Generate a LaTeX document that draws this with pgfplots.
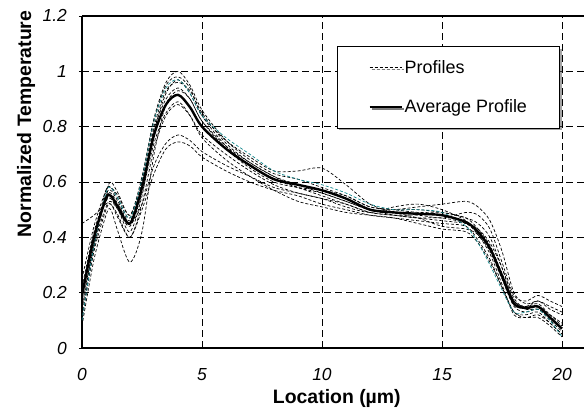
\documentclass[border=0pt]{standalone}
\usepackage{fontspec}
\setmainfont{Liberation Sans}
\usepackage{pgfplots}
\pgfplotsset{compat=1.18}
\usepackage{pgfplotstable}
\usetikzlibrary{calc,shadows}

\definecolor{tealline}{RGB}{20,135,140}

% x, average, ten measured profiles (a-j), one teal profile (t)
\pgfplotstableread{
x    avg   a    b    c     d    e    f    g    h    i    j    t
0    0.19  0.15 0.22 0.12  0.08 0.45 0.18 0.20 0.10 0.25 0.14 0.10
0.5  0.40  0.38 0.42 0.35  0.32 0.48 0.40 0.41 0.36 0.44 0.37 0.37
1    0.54  0.56 0.55 0.50  0.48 0.52 0.57 0.53 0.55 0.57 0.51 0.56
1.2  0.55  0.60 0.56 0.52  0.50 0.53 0.58 0.54 0.57 0.58 0.52 0.58
1.5  0.51  0.56 0.52 0.47  0.42 0.50 0.55 0.50 0.53 0.54 0.48 0.54
2    0.45  0.48 0.45 0.40  0.31 0.42 0.48 0.44 0.46 0.47 0.40 0.47
2.5  0.58  0.62 0.52 0.50  0.42 0.55 0.60 0.56 0.60 0.61 0.52 0.61
3    0.77  0.83 0.66 0.63  0.70 0.78 0.80 0.74 0.79 0.82 0.72 0.82
3.5  0.88  0.96 0.74 0.72  0.88 0.92 0.93 0.85 0.90 0.95 0.84 0.94
4    0.915 1.00 0.77 0.745 0.93 0.97 0.96 0.89 0.94 0.98 0.88 0.97
4.5  0.87  0.95 0.75 0.73  0.90 0.92 0.93 0.84 0.90 0.94 0.84 0.92
5    0.80  0.86 0.71 0.69  0.82 0.84 0.85 0.76 0.82 0.84 0.77 0.84
6    0.72  0.75 0.66 0.64  0.73 0.75 0.74 0.68 0.72 0.73 0.70 0.76
7    0.66  0.68 0.62 0.60  0.67 0.69 0.67 0.62 0.65 0.66 0.64 0.70
8    0.61  0.63 0.58 0.57  0.62 0.64 0.62 0.57 0.60 0.61 0.59 0.64
9    0.59  0.61 0.56 0.55  0.58 0.64 0.59 0.53 0.58 0.58 0.56 0.61
10   0.57  0.58 0.54 0.52  0.56 0.65 0.56 0.51 0.57 0.55 0.54 0.59
11   0.54  0.55 0.52 0.50  0.53 0.59 0.53 0.49 0.55 0.52 0.51 0.56
12   0.50  0.51 0.49 0.48  0.50 0.52 0.50 0.48 0.51 0.49 0.49 0.52
13   0.49  0.50 0.48 0.47  0.48 0.49 0.50 0.47 0.50 0.48 0.51 0.50
14   0.485 0.50 0.47 0.46  0.47 0.47 0.51 0.45 0.49 0.48 0.52 0.50
15   0.48  0.49 0.47 0.45  0.46 0.44 0.52 0.43 0.49 0.47 0.50 0.49
16   0.455 0.47 0.45 0.44  0.45 0.43 0.53 0.42 0.47 0.49 0.46 0.44
16.5 0.42  0.43 0.41 0.39  0.43 0.41 0.51 0.38 0.45 0.48 0.41 0.38
17   0.36  0.37 0.35 0.32  0.38 0.36 0.46 0.31 0.40 0.43 0.34 0.30
17.5 0.26  0.27 0.25 0.22  0.29 0.27 0.35 0.22 0.29 0.31 0.23 0.21
18   0.16  0.17 0.15 0.13  0.18 0.17 0.20 0.13 0.17 0.19 0.12 0.13
18.5 0.145 0.15 0.13 0.11  0.14 0.14 0.16 0.12 0.15 0.17 0.11 0.13
19   0.15  0.16 0.14 0.12  0.14 0.15 0.17 0.13 0.17 0.19 0.11 0.14
19.5 0.11  0.12 0.10 0.09  0.11 0.12 0.15 0.09 0.14 0.17 0.08 0.10
20   0.07  0.08 0.06 0.05  0.07 0.09 0.13 0.05 0.12 0.15 0.04 0.04
}\prof

\begin{document}
\begin{tikzpicture}[
  xt/.style={anchor=base, yshift=-32bp, inner sep=0pt,
    font=\fontsize{17.5}{20}\selectfont\itshape},
  yt/.style={anchor=base east, xshift=-15bp, yshift=-6bp, inner sep=0pt,
    font=\fontsize{17.5}{20}\selectfont\itshape}]
\begin{axis}[
  scale only axis, width=501.6bp, height=332bp,
  xmin=0, xmax=20.9, ymin=0, ymax=1.2,
  xtick={0,5,10,15,20}, ytick={0,0.2,0.4,0.6,0.8,1,1.2},
  xticklabels={,,,,,}, yticklabels={,,,,,,,},
  clip mode=individual,
  axis x line*=box, axis y line*=left,
  axis line style={line width=1.3bp, -},
  grid=major,
  major grid style={black, line width=0.7bp, dash pattern=on 7bp off 4bp},
  xtick style={draw=none},
  ytick style={black, line width=0.8bp},
  tick align=outside, major tick length=3bp,
  xlabel={Location (µm)},
  ylabel={Normalized Temperature},
  xlabel style={at={(axis description cs:0.508,-0.166)}, anchor=base,
    font=\fontsize{19.5}{22}\selectfont\bfseries},
  ylabel style={at={(axis description cs:-0.1116,0.675)}, anchor=center,
    font=\fontsize{19.5}{22}\selectfont\bfseries},
  legend image code/.code={\draw[#1] (0bp,0bp) -- (32bp,0bp);},
  legend cell align=left,
  legend style={at={(axis description cs:0.508,0.9096)}, anchor=north west,
    draw=black, line width=1bp, fill=white,
    drop shadow={shadow xshift=2bp, shadow yshift=-2bp, fill=black!70},
    font=\fontsize{18}{21}\selectfont,
    inner xsep=31bp, inner ysep=12bp, row sep=21bp},
  prof/.style={black, line width=0.7bp, dash pattern=on 3bp off 2bp, smooth},
]
\addplot[prof] table[x=x, y=a] {\prof};
\addlegendentry{Profiles}
\addplot[prof, forget plot] table[x=x, y=b] {\prof};
\addplot[prof, forget plot] table[x=x, y=c] {\prof};
\addplot[prof, forget plot] table[x=x, y=d] {\prof};
\addplot[prof, forget plot] table[x=x, y=e] {\prof};
\addplot[prof, forget plot] table[x=x, y=f] {\prof};
\addplot[prof, forget plot] table[x=x, y=g] {\prof};
\addplot[prof, forget plot] table[x=x, y=h] {\prof};
\addplot[prof, forget plot] table[x=x, y=i] {\prof};
\addplot[prof, forget plot] table[x=x, y=j] {\prof};
\addplot[prof, tealline, forget plot] table[x=x, y=t] {\prof};
\addplot[black, line width=2.4bp, smooth] table[x=x, y=avg] {\prof};
\addlegendentry{Average Profile}
% tick labels
\node[xt] at (axis cs:0,0) {0};
\node[xt] at (axis cs:5,0) {5};
\node[xt] at (axis cs:10,0) {10};
\node[xt] at (axis cs:15,0) {15};
\node[xt] at (axis cs:20,0) {20};
\node[yt] at (axis cs:0,0) {0};
\node[yt] at (axis cs:0,0.2) {0.2};
\node[yt] at (axis cs:0,0.4) {0.4};
\node[yt] at (axis cs:0,0.6) {0.6};
\node[yt] at (axis cs:0,0.8) {0.8};
\node[yt] at (axis cs:0,1) {1};
\node[yt] at (axis cs:0,1.2) {1.2};
\coordinate (o) at (rel axis cs:0,0);
\end{axis}
\pgfresetboundingbox
\path ($(o)+(-82bp,-65bp)$) rectangle ($(o)+(502bp,348bp)$);
\end{tikzpicture}
\end{document}
